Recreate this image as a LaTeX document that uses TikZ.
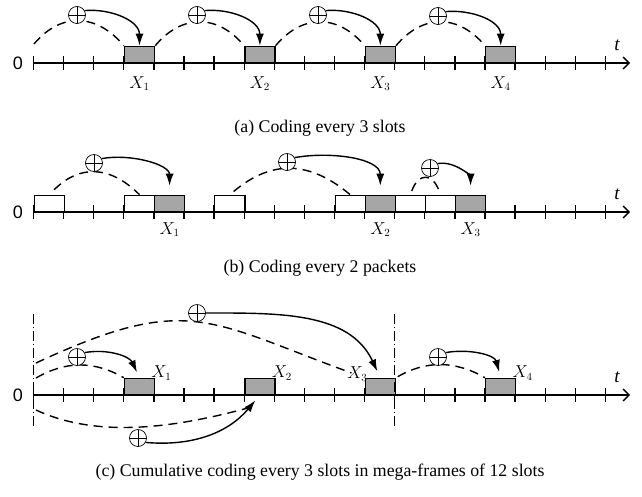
\documentclass[tikz,border=0pt]{standalone}
\usepackage{fontspec}
\setmainfont{Liberation Serif}
\newfontfamily\zerofont{Liberation Sans}
\usetikzlibrary{arrows.meta,positioning}

\begin{document}
\begin{tikzpicture}[x=1pt,y=-1pt,
  coded/.style={draw,line width=1.3pt,fill=gray!70,minimum width=30.1pt,minimum height=16pt,inner sep=0pt,anchor=south west},
  blank/.style={coded,fill=white},
  xor/.style={circle,draw,line width=0.7pt,minimum size=17pt,inner sep=0pt,fill=white,
    path picture={\draw[line width=0.7pt] (path picture bounding box.north)--(path picture bounding box.south)
      (path picture bounding box.west)--(path picture bounding box.east);}},
  combine/.style={line width=1.4pt,dash pattern=on 9pt off 6pt},
  feed/.style={-{Latex[length=12pt,width=8pt]},line width=1.4pt},
  axis/.style={-{Straight Barb[length=6pt,width=12pt]},line width=1.3pt},
  frame/.style={line width=1pt,dash pattern=on 10pt off 3pt on 1pt off 3pt},
  lab/.style={font=\fontsize{16}{16}\selectfont,inner sep=2pt},
  subcap/.style={font=\fontsize{17.8}{18}\selectfont}]
\useasboundingbox (0,0) rectangle (642,496);
\foreach \y in {63,212,395}{
  \foreach \i in {0,...,19} \draw[line width=1.3pt] ({33.5+30.1*\i},\y-7) -- ({33.5+30.1*\i},\y+7);
  \draw[axis] (33.5,\y) -- (630,\y);
  \node[font=\zerofont\fontsize{18}{18}\selectfont] at (18,\y) {0};
  \node[font=\fontsize{19}{19}\selectfont\itshape] at (617,\y-18) {t};
}
% (a)
\foreach \s/\n in {3/1,7/2,11/3,15/4}{
  \node[coded] (a\n) at ({33.5+30.1*\s},63) {};
  \node[lab,below=11pt of a\n.south] {$X_{\n}$};
}
\coordinate (a0) at (34,44);
\draw[combine] (a0) to[out=50,in=130,looseness=1.2] (a1.north west);
\draw[combine] (a1.north east) to[out=50,in=130,looseness=1.2] (a2.north west);
\draw[combine] (a2.north east) to[out=50,in=130,looseness=1.2] (a3.north west);
\draw[combine] (a3.north east) to[out=50,in=130,looseness=1.2] (a4.north west);
\node[xor] (pa1) at (77,15) {};
\node[xor] (pa2) at (197,15) {};
\node[xor] (pa3) at (318,15) {};
\node[xor] (pa4) at (438,16) {};
\foreach \n in {1,...,4} \draw[feed] (pa\n.30) to[out=5,in=90] (a\n.north);
\node[subcap] (capa) at (320,128) {(a) Coding every 3 slots};
% (b)
\foreach \s in {0,3,6,10,12,13} \node[blank] (bw\s) at ({33.5+30.1*\s},212) {};
\foreach \s/\n in {4/1,11/2,14/3}{
  \node[coded] (b\n) at ({33.5+30.1*\s},212) {};
  \node[lab,below=8pt of b\n.south] {$X_{\n}$};
}
\draw[combine,shorten <=7pt] (bw0.north) to[out=45,in=135,looseness=1.2] (bw3.north);
\draw[combine,shorten <=5pt] (bw6.north) to[out=40,in=140,looseness=1.15] (bw10.north);
\draw[combine,shorten <=4pt,shorten >=4pt] (bw12.north) to[out=70,in=110,looseness=2] (bw13.north);
\node[xor] (pb1) at (94,163) {};
\node[xor] (pb2) at (287,162) {};
\node[xor] (pb3) at (430,168) {};
\foreach \n in {1,2,3} \draw[feed,shorten >=9pt] (pb\n.30) to[out=10,in=90] (b\n.north);
\node[subcap] (capb) at (320,268) {(b) Coding every 2 packets};
% (c)
\foreach \s/\n in {3/1,7/2,11/3,15/4} \node[coded] (c\n) at ({33.5+30.1*\s},395) {};
\node[lab,above right=-5pt and -6pt of c1.north east] {$X_1$};
\node[lab,above right=-5pt and -6pt of c2.north east] {$X_2$};
\node[lab,above left=-6pt and -5pt of c3.north west] {$X_3$};
\node[lab,above right=-5pt and -6pt of c4.north east] {$X_4$};
\coordinate (m0t) at (33.5,314); \coordinate (m0b) at (33.5,429);
\coordinate (m1t) at (394.7,314); \coordinate (m1b) at (394.7,429);
\draw[frame] (m0t) -- (m0b);
\draw[frame] (m1t) -- (m1b);
\coordinate (s1) at (36,378); \coordinate (s2) at (36,363); \coordinate (s3) at (36,410);
\coordinate (e3) at (248,408);
\draw[combine] (s1) to[out=30,in=150] (c1.north west);
\draw[combine,shorten >=14pt] (s2) to[out=25,in=160,looseness=1.3] (c3.north west);
\draw[combine] (s3) to[out=-25,in=195,looseness=0.85] (e3);
\draw[combine,shorten <=2pt] (c3.north east) to[out=30,in=150] (c4.north west);
\node[xor] (pc1) at (77,357) {};
\node[xor] (pc2) at (197,313) {};
\node[xor] (pc3) at (138,438) {};
\node[xor] (pc4) at (438,357) {};
\draw[feed,shorten >=6pt] (pc1.30) to[out=10,in=115] (c1.north);
\draw[feed,shorten >=7pt] (pc2.east) to[out=0,in=115] (c3.north);
\draw[feed,shorten >=7pt] (pc3.-30) to[out=-5,in=230] (c2.south);
\draw[feed,shorten >=6pt] (pc4.30) to[out=10,in=105] (c4.north);
\node[subcap] (capc) at (320,472) {(c) Cumulative coding every 3 slots in mega-frames of 12 slots};
\end{tikzpicture}
\end{document}
